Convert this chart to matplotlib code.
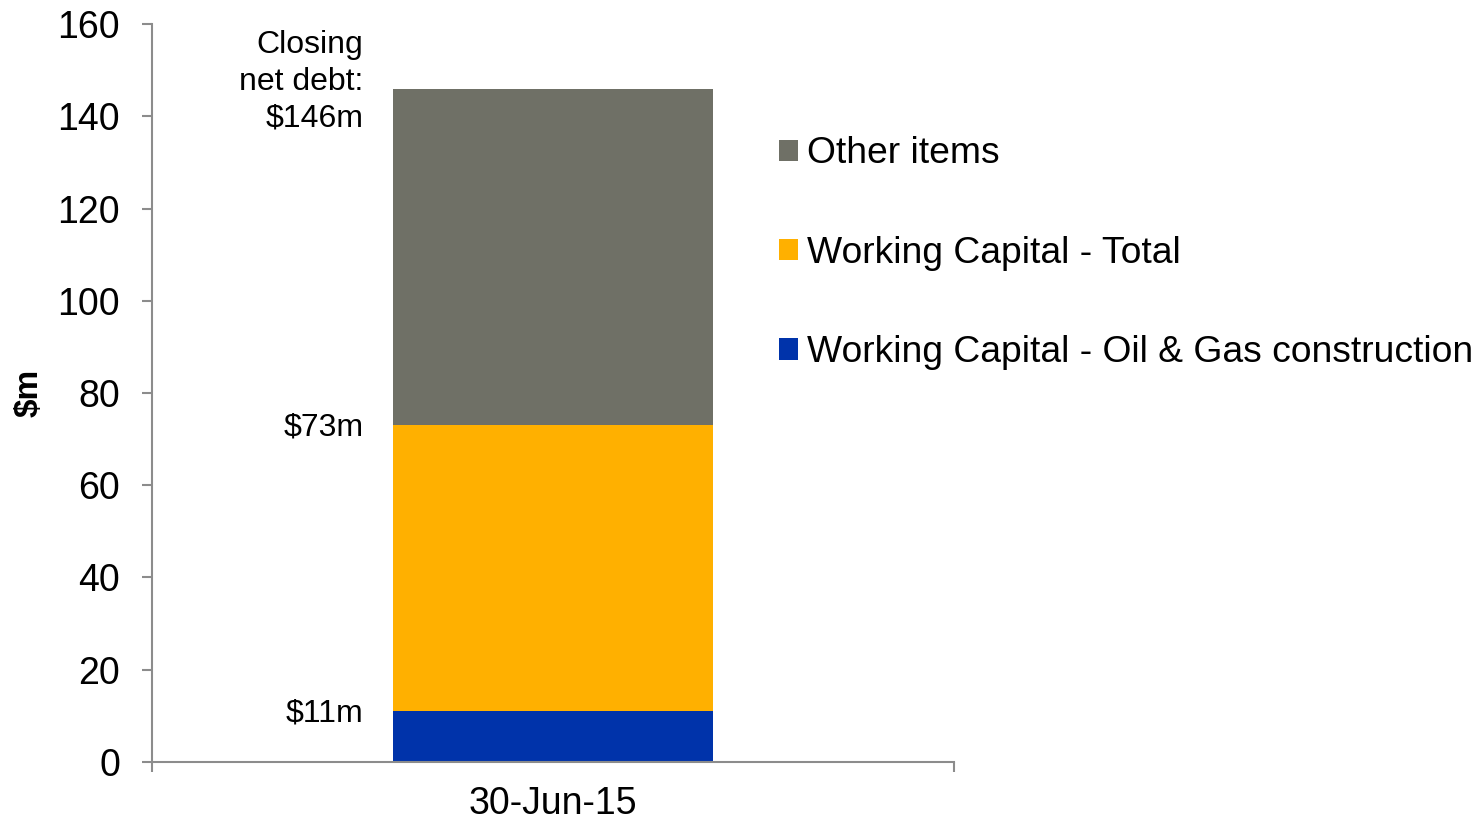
import matplotlib.pyplot as plt
from matplotlib.ticker import FixedLocator

plt.rcParams['font.family'] = ['Liberation Sans', 'DejaVu Sans']

# Net debt build-up at period end ($m)
category = ['30-Jun-15']
series = ['Working Capital - Oil & Gas construction', 'Working Capital - Total', 'Other items']
segments = [11, 62, 73]
colors = ['#0033AA', '#FFB000', '#6F7066']
cumulative_labels = ['$11m', '$73m', 'Closing\nnet debt:\n$146m']

fig = plt.figure(figsize=(14.79, 8.22), dpi=100)
ax = fig.add_axes([0.1028, 0.073, 0.5423, 0.8978])

bottom = 0
handles = []
for name, val, col in zip(series, segments, colors):
    b = ax.bar(0, val, width=0.4, bottom=bottom, color=col, label=name, zorder=2)
    handles.append(b)
    bottom += val

# cumulative labels to the left of the bar
running = 0
for val, txt in zip(segments, cumulative_labels):
    running += val
    if '\n' in txt:
        ax.annotate(txt, xy=(-0.2, running), xytext=(-21, 5), textcoords='offset points',
                    ha='right', va='center', fontsize=23, linespacing=1.3)
    else:
        ax.annotate(txt, xy=(-0.2, running), xytext=(-21, -1.5), textcoords='offset points',
                    ha='right', va='center', fontsize=23)

ax.set_xlim(-0.5, 0.5)
ax.set_ylim(0, 160)
ax.set_yticks(range(0, 161, 20))
ax.set_xticks([0])
ax.set_xticklabels(category)
ax.xaxis.set_minor_locator(FixedLocator([-0.5, 0.5]))

axis_grey = '#8C8C8C'
for s in ['top', 'right']:
    ax.spines[s].set_visible(False)
for s in ['left', 'bottom']:
    ax.spines[s].set_color(axis_grey)
    ax.spines[s].set_linewidth(1.5)

ax.tick_params(axis='y', direction='out', length=7, width=1.5, color=axis_grey,
               labelsize=27, pad=16)
ax.tick_params(axis='x', which='major', length=0, labelsize=27, pad=17)
ax.tick_params(axis='x', which='minor', direction='out', length=7, width=1.5, color=axis_grey)

ax.set_ylabel('$m', fontsize=24, fontweight='bold', labelpad=9)

ax.legend(handles[::-1], series[::-1], loc='upper left', bbox_to_anchor=(0.5268, 0.834),
          bbox_transform=fig.transFigure, frameon=False, fontsize=26.8,
          handlelength=0.5, handleheight=0.5, handletextpad=0.25, labelspacing=1.73,
          borderaxespad=0, borderpad=0)

fig.savefig('out.png', dpi=100)
